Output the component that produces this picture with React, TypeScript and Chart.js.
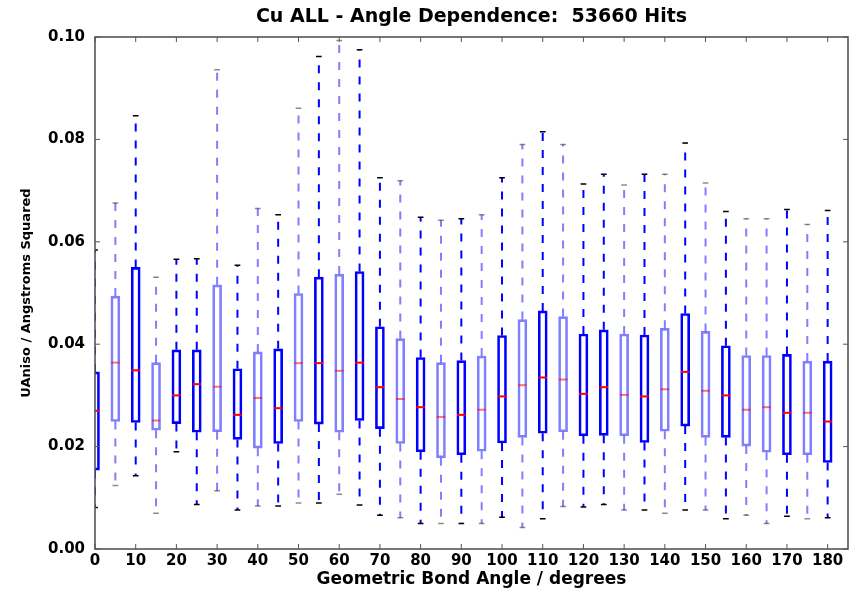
import React, { useEffect, useRef } from "react";
import { Chart, registerables } from "chart.js";

Chart.register(...registerables);

// ---- data ----
const angles = [0, 5, 10, 15, 20, 25, 30, 35, 40, 45, 50, 55, 60, 65, 70, 75, 80, 85, 90, 95, 100, 105, 110, 115, 120, 125, 130, 135, 140, 145, 150, 155, 160, 165, 170, 175, 180];

const whiskerHigh = [0.0584, 0.0676, 0.0846, 0.0531, 0.0566, 0.0567, 0.0936, 0.0554, 0.0665, 0.0653, 0.0861, 0.0962, 0.0993, 0.0975, 0.0725, 0.0719, 0.0648, 0.0642, 0.0645, 0.0653, 0.0725, 0.079, 0.0815, 0.079, 0.0713, 0.0732, 0.0711, 0.0732, 0.0732, 0.0793, 0.0715, 0.0659, 0.0645, 0.0645, 0.0663, 0.0634, 0.0661];

const q3 = [0.0346, 0.0494, 0.055, 0.0364, 0.0389, 0.0389, 0.0516, 0.0352, 0.0385, 0.0391, 0.0499, 0.0531, 0.0537, 0.0542, 0.0434, 0.0411, 0.0374, 0.0364, 0.0368, 0.0377, 0.0417, 0.0448, 0.0465, 0.0454, 0.042, 0.0428, 0.042, 0.0418, 0.0431, 0.046, 0.0425, 0.0397, 0.0378, 0.0378, 0.038, 0.0367, 0.0367];

const medians = [0.027, 0.0364, 0.0349, 0.0251, 0.03, 0.0322, 0.0317, 0.0262, 0.0295, 0.0275, 0.0363, 0.0363, 0.0348, 0.0364, 0.0316, 0.0293, 0.0277, 0.0258, 0.0262, 0.0272, 0.0298, 0.032, 0.0335, 0.0331, 0.0303, 0.0316, 0.0301, 0.0298, 0.0312, 0.0346, 0.0309, 0.03, 0.0272, 0.0277, 0.0266, 0.0266, 0.0249];

const q1 = [0.0154, 0.0249, 0.0247, 0.0232, 0.0245, 0.0228, 0.0229, 0.0214, 0.0197, 0.0206, 0.0249, 0.0244, 0.0228, 0.0251, 0.0235, 0.0206, 0.019, 0.0178, 0.0184, 0.0191, 0.0207, 0.0218, 0.0226, 0.0229, 0.0221, 0.0222, 0.0221, 0.0208, 0.023, 0.024, 0.0218, 0.0218, 0.0201, 0.0189, 0.0184, 0.0184, 0.0169];

const whiskerLow = [0.0081, 0.0124, 0.0143, 0.007, 0.019, 0.0087, 0.0114, 0.0076, 0.0084, 0.0084, 0.009, 0.009, 0.0107, 0.0086, 0.0066, 0.0061, 0.005, 0.005, 0.005, 0.005, 0.0062, 0.0042, 0.0059, 0.0083, 0.0082, 0.0087, 0.0076, 0.0076, 0.007, 0.0076, 0.0076, 0.0059, 0.0066, 0.005, 0.0064, 0.0059, 0.0061];

const xTickValues = [0, 10, 20, 30, 40, 50, 60, 70, 80, 90, 100, 110, 120, 130, 140, 150, 160, 170, 180];
const yTickValues = [0, 0.02, 0.04, 0.06, 0.08, 0.1];

const titleText = "Cu ALL - Angle Dependence:  53660 Hits";
const xTitle = "Geometric Bond Angle / degrees";
const yTitle = "UAniso / Angstroms Squared";

// ---- style ----
const shade = "DLDLD" + "DLDLD" + "LDLDD" + "LDLDL" + "DLDLD" + "DLDLD" + "LDLLD" + "LD";
const BLUE = "rgba(0,0,255,1)";
const BLUE_LIGHT = "rgba(0,0,255,0.5)";
const FONT = "'DejaVu Sans', sans-serif";
const BOX_HALF = 1.05; // data units
const CAP_HALF = 0.7;

const isLight = (i: number) => shade[i] === "L";

const boxPlugin = {
  id: "boxWhiskers",
  afterDatasetsDraw(chart: any) {
    const { ctx, chartArea: a } = chart;
    const x = chart.scales.x;
    const y = chart.scales.y;
    ctx.save();
    ctx.beginPath();
    ctx.rect(a.left, a.top, a.right - a.left, a.bottom - a.top);
    ctx.clip();
    angles.forEach((ang, i) => {
      const px = x.getPixelForValue(ang);
      const light = isLight(i);
      // whiskers (dashed)
      ctx.strokeStyle = light ? BLUE_LIGHT : BLUE;
      ctx.lineWidth = 2;
      ctx.setLineDash([8, 9]);
      ctx.beginPath();
      ctx.moveTo(px, y.getPixelForValue(q3[i]));
      ctx.lineTo(px, y.getPixelForValue(whiskerHigh[i]));
      ctx.stroke();
      ctx.beginPath();
      ctx.moveTo(px, y.getPixelForValue(q1[i]));
      ctx.lineTo(px, y.getPixelForValue(whiskerLow[i]));
      ctx.stroke();
      ctx.setLineDash([]);
      // caps
      const cl = x.getPixelForValue(ang - CAP_HALF);
      const cr = x.getPixelForValue(ang + CAP_HALF);
      ctx.strokeStyle = light ? "rgba(0,0,0,0.45)" : "#000";
      ctx.lineWidth = 1.5;
      ctx.beginPath();
      const yh = y.getPixelForValue(whiskerHigh[i]);
      const yl = y.getPixelForValue(whiskerLow[i]);
      ctx.moveTo(cl, yh);
      ctx.lineTo(cr, yh);
      ctx.moveTo(cl, yl);
      ctx.lineTo(cr, yl);
      ctx.stroke();
      // median
      const bl = x.getPixelForValue(ang - BOX_HALF);
      const br = x.getPixelForValue(ang + BOX_HALF);
      const ym = y.getPixelForValue(medians[i]);
      ctx.strokeStyle = light ? "rgba(255,0,0,0.55)" : "#ff0000";
      ctx.lineWidth = 2;
      ctx.beginPath();
      ctx.moveTo(bl, ym);
      ctx.lineTo(br, ym);
      ctx.stroke();
    });
    ctx.restore();

    // frame and inward ticks
    ctx.save();
    ctx.strokeStyle = "#555";
    ctx.lineWidth = 1;
    ctx.beginPath();
    xTickValues.forEach((v) => {
      const px = x.getPixelForValue(v);
      ctx.moveTo(px, a.bottom);
      ctx.lineTo(px, a.bottom - 5);
      ctx.moveTo(px, a.top);
      ctx.lineTo(px, a.top + 5);
    });
    yTickValues.forEach((v) => {
      const py = y.getPixelForValue(v);
      ctx.moveTo(a.left, py);
      ctx.lineTo(a.left + 5, py);
      ctx.moveTo(a.right, py);
      ctx.lineTo(a.right - 5, py);
    });
    ctx.stroke();
    ctx.lineWidth = 1.6;
    ctx.strokeStyle = "#555";
    ctx.strokeRect(a.left, a.top, a.right - a.left, a.bottom - a.top);
    ctx.restore();
  },
};

export default function App() {
  const canvasRef = useRef<HTMLCanvasElement | null>(null);

  useEffect(() => {
    if (!canvasRef.current) return;
    Chart.defaults.font.family = FONT;
    const chart = new Chart(canvasRef.current, {
      type: "bar",
      data: {
        datasets: [
          {
            label: "IQR",
            data: angles.map((a, i) => ({ x: a, y: [q1[i], q3[i]] })) as any,
            backgroundColor: "rgba(0,0,0,0)",
            borderColor: (c: any) => (isLight(c.dataIndex) ? BLUE_LIGHT : BLUE),
            borderWidth: 2,
            borderSkipped: false,
            barThickness: 9,
          },
        ],
      },
      options: {
        animation: false,
        responsive: false,
        layout: { padding: { left: 0, right: 2, top: 0, bottom: 0 } },
        plugins: {
          legend: { display: false },
          tooltip: { enabled: false },
          title: {
            display: true,
            text: titleText,
            fullSize: false,
            color: "#000",
            font: { size: 19, weight: "bold", family: FONT },
            padding: { top: 5.6, bottom: 8.6 },
          },
        },
        scales: {
          x: {
            type: "linear",
            min: 0,
            max: 185,
            offset: false,
            grid: { display: false, drawTicks: false },
            border: { display: false },
            ticks: {
              stepSize: 10,
              includeBounds: false,
              autoSkip: false,
              maxRotation: 0,
              color: "#000",
              padding: 3,
              font: { size: 15, weight: "bold", family: FONT },
            },
            title: {
              display: true,
              text: xTitle,
              color: "#000",
              font: { size: 17, weight: "bold", family: FONT, lineHeight: 1 },
              padding: { top: 0, bottom: 0.5 },
            },
            afterFit: (s: any) => {
              s.height = 40;
            },
          },
          y: {
            type: "linear",
            min: 0,
            max: 0.1,
            grid: { display: false, drawTicks: false },
            border: { display: false },
            ticks: {
              stepSize: 0.02,
              color: "#000",
              padding: 10,
              font: { size: 15, weight: "bold", family: FONT },
              callback: (v: any) => Number(v).toFixed(2),
            },
            title: {
              display: true,
              text: yTitle,
              color: "#000",
              font: { size: 13, weight: "bold", family: FONT },
              padding: { top: 19, bottom: 0 },
            },
            afterFit: (s: any) => {
              s.width = 95;
            },
          },
        },
      } as any,
      plugins: [boxPlugin],
    });
    return () => chart.destroy();
  }, []);

  return (
    <div style={{ position: "absolute", left: 0, top: 0, width: 850, height: 589, background: "#fff" }}>
      <canvas ref={canvasRef} width={850} height={589} style={{ display: "block" }} />
    </div>
  );
}
